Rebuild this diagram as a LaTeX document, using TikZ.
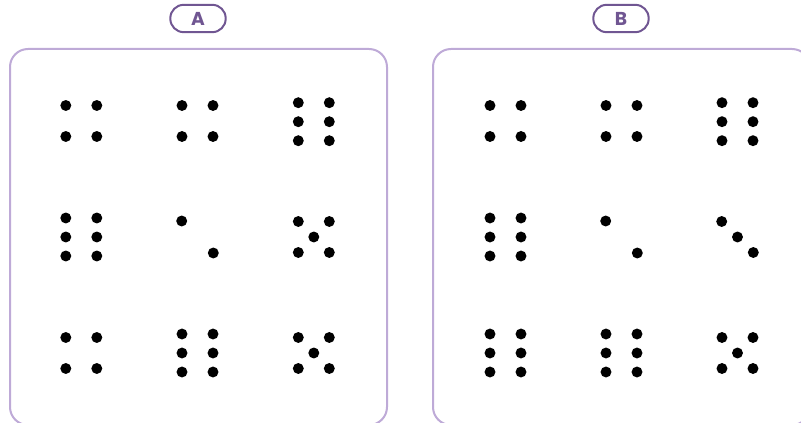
\documentclass[tikz,border=0pt]{standalone}
\usepackage{fontspec}
\setsansfont{Poppins}
\usepackage{xcolor}
\definecolor{violetclair}{RGB}{190, 170, 215}
\definecolor{violetfonce}{RGB}{112, 86, 146}

\tikzset{
  cadre/.style={draw=violetclair, line width=1.5pt, rounded corners=13.5pt,
        minimum width=282.75pt, minimum height=282pt},
  etiquette/.style={draw=violetfonce, line width=1.5pt, rounded corners=10pt,
        minimum width=41.5pt, minimum height=20.5pt, inner sep=0pt,
        text=violetfonce, font=\sffamily\bfseries\fontsize{14}{16}\selectfont},
  quatre/.pic={\foreach \i in {-1,1} \foreach \j in {-1,1}
        \fill (\i*15.5,\j*15.5) circle (4.1pt);},
  six/.pic={\foreach \i in {-1,1} \foreach \j in {-1,0,1}
        \fill (\i*15.5,\j*19) circle (4.1pt);},
  cinq/.pic={\foreach \i in {-1,1} \foreach \j in {-1,1}
        \fill (\i*15.5,\j*15.5) circle (4.1pt);
        \fill (0,0) circle (4.1pt);},
  deux/.pic={\foreach \i in {-1,1} \fill (\i*15.8,\i*16) circle (4.1pt);},
  trois/.pic={\foreach \i in {-1,0,1} \fill (\i*15.8,\i*15.5) circle (4.1pt);}
}

\begin{document}
\begin{tikzpicture}[x=0.75pt, y=-0.75pt]
  \useasboundingbox (0,0) rectangle (801,423);

  % les deux cadres
  \node[cadre] (cadreA) at (198.5,237) {};
  \node[cadre] (cadreB) at (621.5,237) {};
  \node[etiquette] (etiqA) at (198,18.5) {A};
  \node[etiquette] (etiqB) at (621,18.5) {B};

  % cadre A
  \pic at (81.3,121) {quatre};
  \pic at (197.5,121) {quatre};
  \pic at (313.8,121.7) {six};
  \pic at (81.3,237) {six};
  \pic at (197.5,237) {deux};
  \pic at (313.8,237) {cinq};
  \pic at (81.3,353) {quatre};
  \pic at (197.5,353) {six};
  \pic at (313.8,353) {cinq};

  % cadre B
  \pic at (505.5,121) {quatre};
  \pic at (621.5,121) {quatre};
  \pic at (737.5,121.7) {six};
  \pic at (505.5,237) {six};
  \pic at (621.5,237) {deux};
  \pic at (737.5,237) {trois};
  \pic at (505.5,353) {six};
  \pic at (621.5,353) {six};
  \pic at (737.5,353) {cinq};
\end{tikzpicture}
\end{document}
